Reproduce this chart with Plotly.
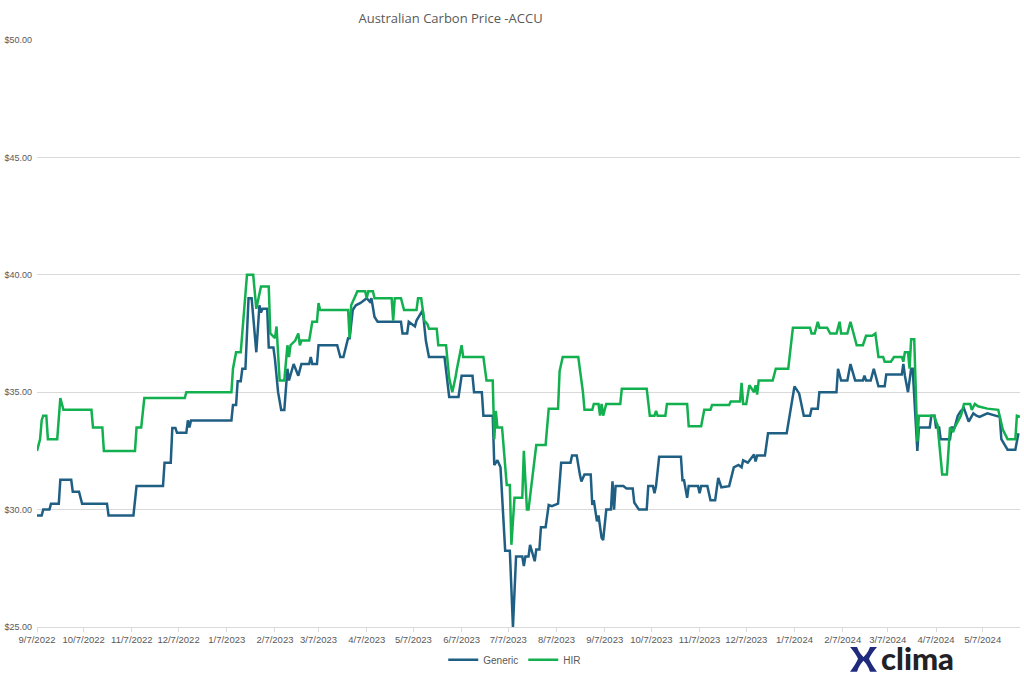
import plotly.graph_objects as go

# HIR ACCU spot price
hir_dates = [
    "2022-09-07", "2022-09-09", "2022-09-10", "2022-09-11", "2022-09-13", "2022-09-14",
    "2022-09-20", "2022-09-22", "2022-09-24", "2022-10-12", "2022-10-13", "2022-10-19",
    "2022-10-20", "2022-11-09", "2022-11-10", "2022-11-13", "2022-11-15", "2022-12-11",
    "2022-12-12", "2023-01-10", "2023-01-11", "2023-01-13", "2023-01-16", "2023-01-17",
    "2023-01-20", "2023-01-24", "2023-01-26", "2023-01-29", "2023-02-03", "2023-02-04",
    "2023-02-07", "2023-02-08", "2023-02-10", "2023-02-13", "2023-02-15", "2023-02-16",
    "2023-02-17", "2023-02-20", "2023-02-22", "2023-02-23", "2023-02-24", "2023-03-01",
    "2023-03-03", "2023-03-06", "2023-03-07", "2023-03-08", "2023-03-26", "2023-03-27",
    "2023-03-28", "2023-04-01", "2023-04-06", "2023-04-07", "2023-04-08", "2023-04-11",
    "2023-04-12", "2023-04-23", "2023-04-24", "2023-04-25", "2023-04-29", "2023-05-01",
    "2023-05-09", "2023-05-10", "2023-05-12", "2023-05-14", "2023-05-16", "2023-05-17",
    "2023-05-22", "2023-05-23", "2023-05-28", "2023-05-30", "2023-06-01", "2023-06-03",
    "2023-06-04", "2023-06-07", "2023-06-08", "2023-06-21", "2023-06-23", "2023-06-27",
    "2023-06-28", "2023-06-29", "2023-06-30", "2023-07-03", "2023-07-06", "2023-07-08",
    "2023-07-09", "2023-07-11", "2023-07-16", "2023-07-17", "2023-07-19", "2023-07-20",
    "2023-07-25", "2023-07-31", "2023-08-02", "2023-08-08", "2023-08-09", "2023-08-11",
    "2023-08-21", "2023-08-23", "2023-08-24", "2023-08-25", "2023-08-30", "2023-08-31",
    "2023-09-03", "2023-09-04", "2023-09-05", "2023-09-06", "2023-09-08", "2023-09-17",
    "2023-09-18", "2023-10-04", "2023-10-06", "2023-10-09", "2023-10-10", "2023-10-11",
    "2023-10-16", "2023-10-17", "2023-10-30", "2023-10-31", "2023-11-08", "2023-11-10",
    "2023-11-14", "2023-11-15", "2023-11-26", "2023-11-27", "2023-12-03", "2023-12-04",
    "2023-12-05", "2023-12-07", "2023-12-09", "2023-12-12", "2023-12-13", "2023-12-14",
    "2023-12-15", "2023-12-24", "2023-12-26", "2024-01-03", "2024-01-06", "2024-01-17",
    "2024-01-18", "2024-01-20", "2024-01-22", "2024-01-23", "2024-01-28", "2024-01-30",
    "2024-02-03", "2024-02-05", "2024-02-06", "2024-02-10", "2024-02-12", "2024-02-14",
    "2024-02-16", "2024-02-20", "2024-02-22", "2024-02-26", "2024-02-28", "2024-02-29",
    "2024-03-01", "2024-03-04", "2024-03-05", "2024-03-09", "2024-03-11", "2024-03-16",
    "2024-03-17", "2024-03-18", "2024-03-20", "2024-03-21", "2024-03-22", "2024-03-24",
    "2024-03-26", "2024-03-27", "2024-04-06", "2024-04-07", "2024-04-08", "2024-04-11",
    "2024-04-14", "2024-04-15", "2024-04-16", "2024-04-18", "2024-04-19", "2024-04-23",
    "2024-04-25", "2024-04-29", "2024-04-30", "2024-05-02", "2024-05-04", "2024-05-10",
    "2024-05-17", "2024-05-20", "2024-05-23", "2024-05-28", "2024-05-29", "2024-05-31",
]
hir_prices = [
    32.5, 33.0, 33.8, 34.0, 34.0, 33.0,
    33.0, 34.75, 34.25, 34.25, 33.5, 33.5,
    32.5, 32.5, 33.5, 33.5, 34.75, 34.75,
    35.0, 35.0, 36.0, 36.7, 36.7, 37.5,
    40.0, 40.0, 38.55, 39.5, 39.5, 37.5,
    37.3, 37.8, 35.5, 35.5, 37.0, 36.5,
    37.0, 37.2, 37.5, 37.0, 37.2, 37.2,
    38.0, 38.0, 38.8, 38.5, 38.5, 37.3,
    38.7, 39.3, 39.3, 39.0, 39.3, 39.3,
    39.0, 39.0, 38.05, 39.0, 39.0, 38.5,
    38.5, 39.0, 39.0, 38.05, 37.9, 37.7,
    37.7, 37.0, 37.0, 35.6, 35.0, 35.6,
    36.0, 37.0, 36.5, 36.5, 35.5, 35.5,
    33.0, 34.2, 33.5, 33.5, 31.05, 31.05,
    28.5, 30.5, 30.5, 32.5, 30.0, 30.0,
    32.75, 32.75, 34.3, 34.3, 35.9, 36.5,
    36.5, 35.5, 35.0, 34.25, 34.25, 34.5,
    34.5, 34.0, 34.5, 34.0, 34.5, 34.5,
    35.15, 35.15, 34.0, 34.0, 34.2, 34.0,
    34.0, 34.5, 34.5, 33.55, 33.55, 34.25,
    34.25, 34.45, 34.45, 34.6, 34.6, 35.4,
    34.5, 34.5, 35.3, 35.0, 35.3, 34.9,
    35.5, 35.5, 36.0, 36.0, 37.75, 37.75,
    37.5, 37.5, 38.0, 37.75, 37.75, 37.5,
    37.5, 38.0, 37.5, 37.5, 38.0, 37.5,
    37.0, 37.0, 37.4, 37.4, 37.5, 37.0,
    36.5, 36.5, 36.3, 36.3, 36.5, 36.5,
    36.3, 36.7, 36.7, 36.0, 37.25, 37.25,
    32.9, 34.0, 34.0, 33.75, 33.6, 31.5,
    31.5, 32.5, 33.5, 33.3, 33.5, 34.0,
    34.5, 34.5, 34.25, 34.5, 34.4, 34.3,
    34.25, 33.4, 33.0, 33.0, 34.0, 33.95,
]

# Generic ACCU spot price
generic_dates = [
    "2022-09-07", "2022-09-10", "2022-09-11", "2022-09-15", "2022-09-16", "2022-09-21",
    "2022-09-22", "2022-09-29", "2022-09-30", "2022-10-04", "2022-10-06", "2022-10-22",
    "2022-10-23", "2022-11-08", "2022-11-10", "2022-11-27", "2022-11-28", "2022-12-02",
    "2022-12-03", "2022-12-05", "2022-12-06", "2022-12-12", "2022-12-13", "2022-12-14",
    "2022-12-15", "2023-01-10", "2023-01-11", "2023-01-13", "2023-01-14", "2023-01-16",
    "2023-01-17", "2023-01-19", "2023-01-21", "2023-01-23", "2023-01-26", "2023-01-28",
    "2023-01-29", "2023-01-30", "2023-02-02", "2023-02-03", "2023-02-06", "2023-02-07",
    "2023-02-09", "2023-02-11", "2023-02-13", "2023-02-14", "2023-02-15", "2023-02-16",
    "2023-02-18", "2023-02-19", "2023-02-22", "2023-02-24", "2023-03-01", "2023-03-02",
    "2023-03-03", "2023-03-06", "2023-03-07", "2023-03-19", "2023-03-21", "2023-03-23",
    "2023-03-26", "2023-03-27", "2023-03-29", "2023-03-31", "2023-04-03", "2023-04-07",
    "2023-04-09", "2023-04-10", "2023-04-12", "2023-04-14", "2023-04-29", "2023-04-30",
    "2023-05-03", "2023-05-04", "2023-05-08", "2023-05-09", "2023-05-13", "2023-05-14",
    "2023-05-15", "2023-05-17", "2023-05-27", "2023-05-30", "2023-06-05", "2023-06-07",
    "2023-06-14", "2023-06-15", "2023-06-20", "2023-06-21", "2023-06-27", "2023-06-28",
    "2023-06-30", "2023-07-02", "2023-07-05", "2023-07-08", "2023-07-10", "2023-07-12",
    "2023-07-16", "2023-07-17", "2023-07-18", "2023-07-20", "2023-07-21", "2023-07-24",
    "2023-07-25", "2023-07-27", "2023-07-28", "2023-07-31", "2023-08-02", "2023-08-04",
    "2023-08-08", "2023-08-10", "2023-08-16", "2023-08-17", "2023-08-20", "2023-08-22",
    "2023-08-23", "2023-08-25", "2023-08-29", "2023-08-30", "2023-08-31", "2023-09-02",
    "2023-09-03", "2023-09-05", "2023-09-06", "2023-09-08", "2023-09-11", "2023-09-12",
    "2023-09-13", "2023-09-14", "2023-09-19", "2023-09-21", "2023-09-25", "2023-09-26",
    "2023-09-29", "2023-10-04", "2023-10-05", "2023-10-08", "2023-10-09", "2023-10-10",
    "2023-10-12", "2023-10-26", "2023-10-27", "2023-10-28", "2023-10-30", "2023-10-31",
    "2023-11-06", "2023-11-07", "2023-11-08", "2023-11-12", "2023-11-14", "2023-11-17",
    "2023-11-19", "2023-11-21", "2023-11-26", "2023-11-29", "2023-12-02", "2023-12-04",
    "2023-12-05", "2023-12-08", "2023-12-10", "2023-12-12", "2023-12-13", "2023-12-14",
    "2023-12-19", "2023-12-21", "2024-01-02", "2024-01-04", "2024-01-05", "2024-01-07",
    "2024-01-10", "2024-01-13", "2024-01-17", "2024-01-18", "2024-01-22", "2024-01-23",
    "2024-02-03", "2024-02-04", "2024-02-06", "2024-02-10", "2024-02-12", "2024-02-15",
    "2024-02-20", "2024-02-21", "2024-02-22", "2024-02-25", "2024-02-27", "2024-03-01",
    "2024-03-05", "2024-03-06", "2024-03-16", "2024-03-17", "2024-03-18", "2024-03-20",
    "2024-03-22", "2024-03-23", "2024-03-26", "2024-03-27", "2024-04-03", "2024-04-04",
    "2024-04-06", "2024-04-07", "2024-04-09", "2024-04-10", "2024-04-16", "2024-04-17",
    "2024-04-19", "2024-04-21", "2024-04-23", "2024-04-25", "2024-04-28", "2024-05-01",
    "2024-05-03", "2024-05-05", "2024-05-10", "2024-05-18", "2024-05-19", "2024-05-23",
    "2024-05-28", "2024-05-30",
]
generic_prices = [
    29.75, 29.75, 30.0, 30.0, 30.25, 30.25,
    31.27, 31.27, 30.76, 30.76, 30.25, 30.25,
    29.75, 29.75, 31.0, 31.0, 32.0, 32.0,
    33.48, 33.48, 33.27, 33.27, 33.8, 33.5,
    33.8, 33.8, 34.45, 34.45, 35.47, 35.47,
    36.0, 36.0, 39.0, 39.0, 36.7, 38.7,
    38.4, 38.55, 38.55, 36.9, 36.9, 36.4,
    35.0, 34.24, 34.24, 35.0, 36.0, 35.5,
    36.0, 36.2, 35.7, 36.2, 36.2, 36.5,
    36.2, 36.2, 37.0, 37.0, 36.5, 36.5,
    37.3, 37.3, 38.5, 38.7, 38.8, 39.0,
    38.85, 39.0, 38.2, 38.0, 38.0, 37.5,
    37.5, 38.0, 37.8, 38.05, 38.5, 37.9,
    37.2, 36.5, 36.5, 34.8, 34.8, 35.7,
    35.7, 35.0, 35.0, 34.0, 34.0, 31.9,
    32.1, 31.8, 28.25, 28.25, 25.0, 28.0,
    28.0, 27.6, 28.0, 28.0, 28.5, 27.8,
    28.3, 28.3, 29.25, 29.25, 30.2, 30.15,
    30.25, 32.0, 32.0, 32.3, 32.3, 31.5,
    31.2, 31.5, 31.5, 30.2, 30.4, 29.5,
    29.75, 28.8, 28.7, 30.0, 30.0, 31.2,
    30.0, 31.0, 31.0, 30.9, 30.9, 30.3,
    30.0, 30.0, 31.0, 31.0, 30.7, 31.0,
    32.25, 32.25, 31.25, 31.25, 30.5, 31.0,
    31.0, 30.7, 31.0, 31.0, 30.4, 30.4,
    31.35, 30.95, 31.0, 31.8, 31.9, 31.8,
    32.1, 32.0, 32.2, 32.35, 32.05, 32.3,
    32.3, 33.25, 33.25, 34.1, 34.4, 35.25,
    34.95, 34.0, 34.0, 34.3, 34.3, 35.0,
    35.0, 36.0, 35.5, 35.5, 36.2, 35.5,
    35.5, 35.7, 35.5, 35.5, 36.0, 35.25,
    35.25, 35.75, 35.75, 36.2, 35.7, 35.0,
    36.0, 36.0, 32.5, 33.5, 33.5, 34.0,
    34.0, 33.5, 33.5, 33.0, 33.0, 33.5,
    33.5, 34.0, 34.2, 34.3, 33.75, 34.1,
    34.0, 33.95, 34.1, 33.95, 33.0, 32.55,
    32.55, 33.25,
]

tick_dates = [
    "2022-09-07", "2022-10-07", "2022-11-07", "2022-12-07", "2023-01-07", "2023-02-07",
    "2023-03-07", "2023-04-07", "2023-05-07", "2023-06-07", "2023-07-07", "2023-08-07",
    "2023-09-07", "2023-10-07", "2023-11-07", "2023-12-07", "2024-01-07", "2024-02-07",
    "2024-03-07", "2024-04-07", "2024-05-07",
]

GENERIC_COLOR = "#1f5f84"
HIR_COLOR = "#12b04f"
LOGO_NAVY = "#1e2a7c"
GREY = "#595959"
TICK_FONT = "Liberation Sans Narrow, Liberation Sans, Arial, sans-serif"

# plot area in pixels (used only to place the logo)
L, R, T, B = 37, 1020, 40, 630


def px(x, y):
    return (x - L) / (R - L), (B - y) / (B - T)


def logo_path(steps):
    parts = []
    for cmd, *pts in steps:
        coords = " ".join("{:.4f},{:.4f}".format(*px(x, y)) for x, y in pts)
        parts.append(f"{cmd} {coords}")
    return " ".join(parts) + " Z"


left_wing = [
    ("M", (850, 650)), ("L", (857, 650)), ("Q", (860, 658), (866, 662)),
    ("Q", (860, 666), (857, 675)), ("L", (850, 675)), ("Q", (856, 667), (858, 662)),
    ("Q", (856, 657), (850, 650)),
]
right_wing = [
    ("M", (877, 650)), ("L", (870, 650)), ("Q", (867, 658), (861, 662)),
    ("Q", (867, 666), (870, 675)), ("L", (877, 675)), ("Q", (871, 667), (869, 662)),
    ("Q", (871, 657), (877, 650)),
]

fig = go.Figure()
fig.add_trace(
    go.Scatter(
        x=generic_dates,
        y=generic_prices,
        name="Generic",
        mode="lines",
        line=dict(color=GENERIC_COLOR, width=2.5),
    )
)
fig.add_trace(
    go.Scatter(
        x=hir_dates,
        y=hir_prices,
        name="HIR",
        mode="lines",
        line=dict(color=HIR_COLOR, width=2.5),
    )
)

clima_x, clima_y = px(917, 682)
fig.update_layout(
    width=1024,
    height=678,
    margin=dict(l=L, r=1024 - R, t=T, b=678 - B),
    paper_bgcolor="white",
    plot_bgcolor="white",
    font=dict(family=TICK_FONT, color=GREY, size=10),
    title=dict(
        text="Australian Carbon Price -ACCU",
        x=0.44,
        xanchor="center",
        y=0.973,
        yanchor="middle",
        font=dict(family="Open Sans, Lato, sans-serif", size=13, color=GREY),
    ),
    legend=dict(
        orientation="h",
        x=0.486,
        xanchor="center",
        y=px(0, 663)[1],
        yanchor="middle",
        font=dict(size=10, color=GREY),
        itemwidth=30,
    ),
    shapes=[
        dict(
            type="path",
            xref="paper",
            yref="paper",
            path=logo_path(wing),
            fillcolor=LOGO_NAVY,
            line=dict(width=0),
            layer="above",
        )
        for wing in (left_wing, right_wing)
    ],
    annotations=[
        dict(
            text="clima",
            xref="paper",
            yref="paper",
            x=clima_x,
            y=clima_y,
            xanchor="center",
            yanchor="bottom",
            showarrow=False,
            font=dict(family="Lato, Noto Sans, sans-serif", size=31, color="#222226", weight=900),
        ),
    ],
)

fig.update_xaxes(
    type="date",
    range=["2022-09-07", "2024-05-31"],
    tickvals=tick_dates,
    tickformat="%-m/%-d/%Y",
    tickangle=0,
    tickfont=dict(size=9.5, color=GREY),
    ticks="outside",
    ticklen=4,
    tickcolor="#d9d9d9",
    showgrid=False,
    showline=True,
    linecolor="#d9d9d9",
    linewidth=1,
    zeroline=False,
    automargin=False,
)
fig.update_yaxes(
    range=[25, 50],
    dtick=5,
    tickprefix="$",
    tickformat=".2f",
    tickfont=dict(size=9, color=GREY),
    ticklabelstandoff=4,
    showgrid=True,
    gridcolor="#d9d9d9",
    gridwidth=1,
    zeroline=False,
    ticks="",
    automargin=False,
)

fig.write_html(
    "out.html",
    config={"displayModeBar": False},
    post_script="document.body.style.margin = '0px';",
)
